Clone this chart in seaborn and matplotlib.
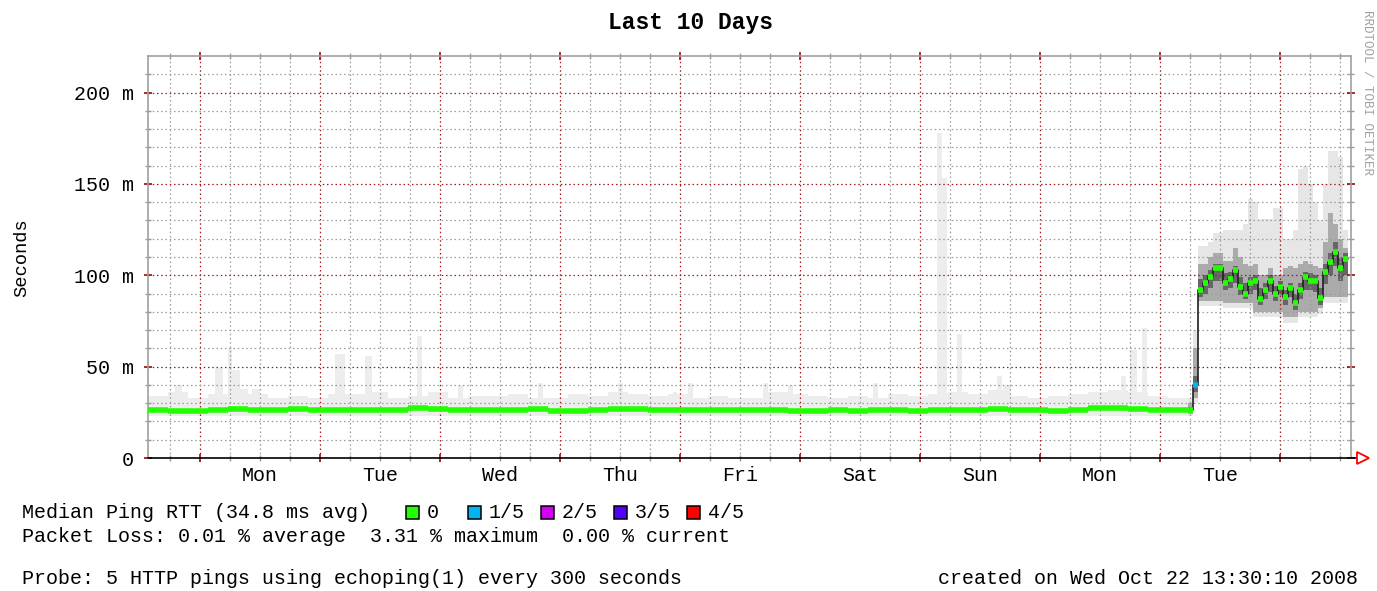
import numpy as np
import pandas as pd
import seaborn as sns
import matplotlib.pyplot as plt
from matplotlib.patches import Rectangle
from matplotlib.ticker import FixedLocator, FuncFormatter

W, H = 1377, 591

# ---- data, x = hours since left edge of graph ----
day_names = ['Mon', 'Tue', 'Wed', 'Thu', 'Fri', 'Sat', 'Sun', 'Mon', 'Tue']
first_midnight = 10.4
span_hours = 240.6

# quiet period, 4 hour bins (ms)
base_step = 4
base_median = [26.5, 25.5, 25.5, 26, 27, 26, 26.5, 27, 26, 26, 26.5, 26, 26.5,
               27.5, 27, 26, 26, 26.5, 26.5, 27, 25.5, 25.5, 26.5, 27, 27, 26.5,
               26, 26, 26.5, 26, 26, 26.5, 25.5, 25.5, 26, 25.5, 26, 26, 25.5,
               26, 26.5, 26, 27, 26.5, 26, 25.5, 26.5, 27.5, 27.5, 27, 26, 26]
base_smoke_top = [34, 36, 33, 35, 38, 35, 33, 34, 33, 35, 35, 36, 33, 34, 36, 33,
                  34, 34, 35, 33, 33, 35, 34, 36, 35, 34, 35, 33, 34, 33, 33, 36,
                  35, 34, 33, 34, 33, 35, 34, 35, 36, 35, 37, 34, 33, 34, 35, 36,
                  37, 36, 34, 33]

# light grey smoke spikes in the quiet period
spike_hour = [5.4, 13.4, 16.0, 16.8, 20.8, 37.4, 43.4, 53.8, 62.0, 78.0, 94.0,
              105.0, 108.0, 123.0, 128.0, 145.0, 157.8, 158.8, 161.8, 169.8,
              171.0, 194.5, 196.4, 198.8]
spike_len = [1.4, 1.6, 0.8, 1.6, 1.6, 2.0, 1.4, 1.0, 1.0, 1.0, 1.0, 0.8, 1.0,
             1.0, 1.0, 1.0, 1.0, 1.0, 1.0, 1.0, 1.6, 1.0, 1.4, 1.0]
spike_top = [40, 49, 60, 48, 38, 57, 56, 67, 40, 41, 41, 36, 41, 41, 40, 41,
             178, 153, 68, 45, 40, 45, 59, 71]

# last day, hourly values
late_start = 208
late_median = [26, 40, 91.8, 96, 99, 104, 104, 95.6, 98, 103, 93.6, 90, 95.6,
               97, 87, 92, 97, 90, 93.6, 88, 93, 85, 92, 99, 97, 97, 87.4,
               101.6, 107, 112.6, 104, 109]
late_loss = [0, 1, 0, 0, 0, 0, 0, 0, 0, 0, 0, 0, 0, 0, 0, 0, 0, 0, 0, 0, 0, 0,
             0, 0, 0, 0, 0, 0, 0, 0, 0, 0]
late_dark_lo = [25, 36, 88, 90, 93, 97, 97, 92, 93, 96, 89, 87, 90, 92, 84, 87,
                91, 86, 89, 84, 88, 81, 87, 92, 92, 91, 84, 95, 100, 105, 97, 100]
late_dark_hi = [28, 45, 98, 100, 103, 106, 106, 101, 102, 105, 99, 96, 99, 100,
                93, 96, 100, 94, 97, 92, 96, 90, 96, 102, 101, 100, 93, 106, 112,
                118, 110, 112]
late_mid_lo = [24, 33, 86, 86, 86, 86, 86, 85, 85, 85, 85, 85, 85, 80, 80, 80,
               80, 80, 80, 77, 77, 77, 80, 80, 80, 80, 82, 88, 88, 88, 88, 88]
late_mid_hi = [30, 60, 106, 106, 110, 112, 112, 108, 108, 115, 110, 106, 105,
               106, 100, 100, 104, 100, 100, 104, 105, 104, 106, 108, 106, 105,
               104, 118, 134, 128, 120, 115]
late_light_lo = [23, 30, 83, 83, 83, 83, 83, 82, 82, 82, 82, 82, 82, 77, 77, 77,
                 77, 77, 77, 74, 74, 74, 77, 77, 77, 77, 79, 85, 85, 85, 85, 85]
late_light_hi = [33, 70, 116, 116, 118, 123, 123, 125, 125, 125, 125, 128, 142,
                 140, 131, 131, 131, 137, 137, 120, 120, 125, 158, 160, 150, 140,
                 130, 150, 168, 168, 165, 125]

loss_colors = ['#22ff00', '#00b4f0', '#d400f4', '#5200ff', '#ff0000']
loss_names = ['0', '1/5', '2/5', '3/5', '4/5']

# ---- figure ----
sns.set_theme(style='white')
plt.rcParams['font.family'] = ['Liberation Mono', 'DejaVu Sans Mono']
plt.rcParams['text.color'] = 'black'

fig = plt.figure(figsize=(W / 100, H / 100), dpi=100, facecolor='white')
ax = fig.add_axes([148 / W, 133 / H, 1203 / W, 402 / H])
ax.set_facecolor('white')

base_t = np.arange(len(base_median)) * base_step
late_t = late_start + np.arange(len(late_median))


def step_xy(t, v, width):
    return np.append(t, t[-1] + width), np.append(v, v[-1])


# smoke
x, y = step_xy(base_t, base_smoke_top, base_step)
ax.fill_between(x, 23, y, step='post', color='#ededed', lw=0, zorder=1)
ax.bar(spike_hour, np.array(spike_top) - 23, width=spike_len, bottom=23,
       align='edge', color='#ededed', lw=0, zorder=1)

x, lo = step_xy(late_t, late_light_lo, 1)
_, hi = step_xy(late_t, late_light_hi, 1)
ax.fill_between(x, lo, hi, step='post', color='#e6e6e6', lw=0, zorder=1)
_, lo = step_xy(late_t, late_mid_lo, 1)
_, hi = step_xy(late_t, late_mid_hi, 1)
ax.fill_between(x, lo, hi, step='post', color='#ababab', lw=0, zorder=1)
_, lo = step_xy(late_t, late_dark_lo, 1)
_, hi = step_xy(late_t, late_dark_hi, 1)
ax.fill_between(x, lo, hi, step='post', color='#666666', lw=0, zorder=1)

# median: thin black step line + loss-coloured bars
med = pd.DataFrame({
    'hour': np.concatenate([base_t, late_t, [span_hours - 0.6]]),
    'median': np.concatenate([base_median, late_median, [late_median[-1]]]),
})
sns.lineplot(data=med, x='hour', y='median', ax=ax, drawstyle='steps-post',
             color='#202020', lw=1.2, zorder=3)

ax.hlines(base_median, base_t, base_t + base_step, colors=loss_colors[0],
          lw=4, zorder=4)
ax.hlines(late_median, late_t, late_t + 1,
          colors=[loss_colors[l] for l in late_loss], lw=4, zorder=4)

# axes / grid
ax.set_xlim(0, span_hours)
ax.set_ylim(0, 220)
ax.set_xlabel('')
ax.set_ylabel('')

midnights = [first_midnight + 24 * k for k in range(10)]
minor_x, minor_lab = [4.4], ['']
for k, m in enumerate(midnights):
    for off in (6, 12, 18):
        if m + off < span_hours:
            minor_x.append(m + off)
            minor_lab.append(day_names[k] if off == 12 and k < len(day_names) else '')
ax.set_xticks(midnights)
ax.set_xticklabels([''] * len(midnights))
ax.set_xticks(minor_x, minor=True)
ax.set_xticklabels(minor_lab, minor=True)

ax.yaxis.set_major_locator(FixedLocator([0, 50, 100, 150, 200]))
ax.yaxis.set_minor_locator(FixedLocator(list(range(10, 220, 10))))
ax.yaxis.set_major_formatter(FuncFormatter(lambda v, p: '0' if v == 0 else '%d m' % v))

ax.set_axisbelow('line')
ax.grid(which='major', color='#a01c1c', ls=(0, (1.2, 2.2)), lw=0.9)
ax.grid(which='minor', color='#9a9a9a', ls=(0, (1.2, 2.2)), lw=0.9)

ax.tick_params(which='both', direction='inout', left=True, right=True,
               top=True, bottom=True, labelsize=14.4, labelcolor='black')
ax.tick_params(which='major', length=6, width=1.3, color='#a01c1c')
ax.tick_params(which='minor', length=5, width=1.0, color='#9a9a9a')
ax.tick_params(axis='y', which='major', pad=7)
ax.tick_params(axis='x', which='minor', pad=3)

for s in ('left', 'top', 'right'):
    ax.spines[s].set_color('#a0a0a0')
    ax.spines[s].set_linewidth(1.2)
ax.spines['bottom'].set_color('black')
ax.spines['bottom'].set_linewidth(1.2)

# x axis arrow
ax.plot([span_hours, span_hours + 1.4], [0, 0], color='black', lw=1.2,
        clip_on=False, zorder=5)
ax.plot(span_hours + 2.3, 0, marker='>', ms=9, mfc='white', mec='red',
        mew=1.3, clip_on=False, zorder=5)


def fx(px):
    return px / W


def fy(py):
    return 1 - py / H


fig.text(fx(690), fy(22), 'Last 10 Days', ha='center', va='center',
         fontsize=16.5, fontweight='bold')
fig.text(fx(22), fy(258), 'Seconds', rotation=90, ha='center', va='center',
         fontsize=13.5)
fig.text(fx(1367), fy(92), 'RRDTOOL / TOBI OETIKER', rotation=270,
         ha='center', va='center', fontsize=9, color='#a0a0a0')

fs = 14.4
fig.text(fx(22), fy(512), 'Median Ping RTT (34.8 ms avg)', va='center', fontsize=fs)
box_x = [406, 468, 541, 614, 687]
for bx, c, name in zip(box_x, loss_colors, loss_names):
    fig.patches.append(Rectangle((fx(bx), fy(519)), 13 / W, 13 / H,
                                 transform=fig.transFigure, facecolor=c,
                                 edgecolor='black', lw=1.1))
    fig.text(fx(bx + 21), fy(512), name, va='center', fontsize=fs)

fig.text(fx(22), fy(537),
         'Packet Loss: 0.01 % average  3.31 % maximum  0.00 % current',
         va='center', fontsize=fs)
fig.text(fx(22), fy(578),
         'Probe: 5 HTTP pings using echoping(1) every 300 seconds',
         va='center', fontsize=fs)
fig.text(fx(1358), fy(578), 'created on Wed Oct 22 13:30:10 2008',
         ha='right', va='center', fontsize=fs)

fig.savefig('out.png', dpi=100, facecolor='white')
